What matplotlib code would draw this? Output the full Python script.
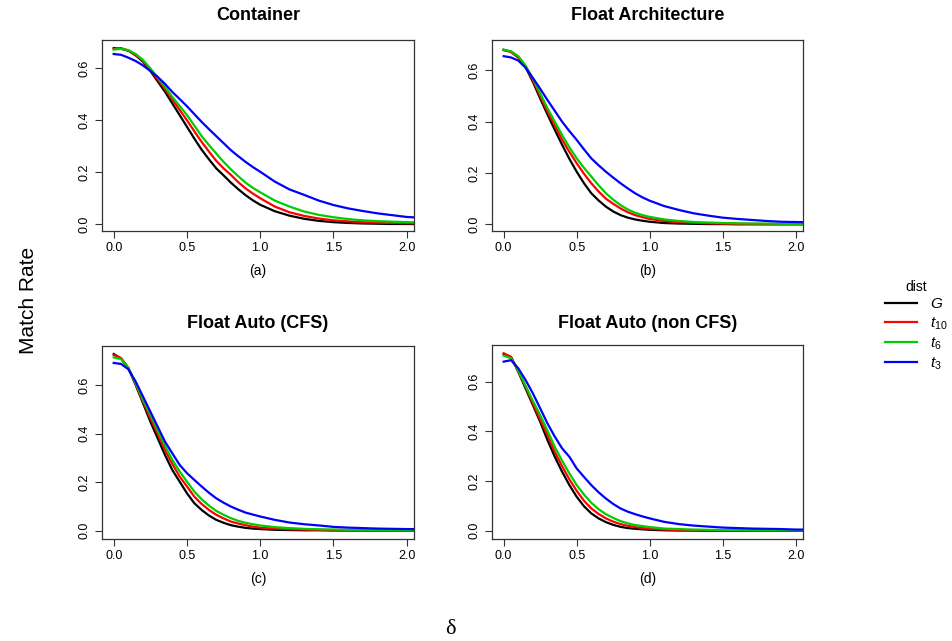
import matplotlib
matplotlib.use('Agg')
import matplotlib.pyplot as plt
import numpy as np

plt.rcParams['font.family'] = ['Liberation Sans', 'DejaVu Sans']
plt.rcParams['mathtext.fontset'] = 'custom'
plt.rcParams['mathtext.it'] = 'Liberation Sans:italic'
plt.rcParams['mathtext.rm'] = 'Liberation Sans'

# valores
delta = [0.0, 0.05, 0.1, 0.15, 0.2, 0.25, 0.3, 0.35, 0.4, 0.45, 0.5, 0.55, 0.6, 0.65,
         0.7, 0.75, 0.8, 0.85, 0.9, 0.95, 1.0, 1.1, 1.2, 1.3, 1.4, 1.5, 1.6, 1.7, 1.8,
         1.9, 2.0, 2.1]

dists = ['G', 't10', 't6', 't3']
etiquetas = ['$G$', '$t_{10}$', '$t_{6}$', '$t_{3}$']
colores = ['black', '#FF0000', '#00CD00', '#0000FF']

titulos = ['Container', 'Float Architecture', 'Float Auto (CFS)', 'Float Auto (non CFS)']
letras = ['(a)', '(b)', '(c)', '(d)']

a_G = [0.678, 0.675, 0.668, 0.650, 0.625, 0.590, 0.550, 0.510, 0.465, 0.420, 0.375, 0.330, 0.287, 0.250,
       0.215, 0.188, 0.160, 0.135, 0.112, 0.092, 0.075, 0.050, 0.033, 0.021, 0.013, 0.008, 0.005, 0.003,
       0.002, 0.001, 0.001, 0.000]
a_t10 = [0.675, 0.678, 0.668, 0.652, 0.628, 0.595, 0.558, 0.520, 0.480, 0.440, 0.400, 0.358, 0.317, 0.280,
         0.244, 0.215, 0.190, 0.162, 0.138, 0.118, 0.100, 0.068, 0.046, 0.032, 0.022, 0.015, 0.011, 0.008,
         0.006, 0.005, 0.004, 0.003]
a_t6 = [0.672, 0.675, 0.670, 0.655, 0.632, 0.600, 0.565, 0.528, 0.490, 0.455, 0.420, 0.380, 0.339, 0.305,
        0.272, 0.240, 0.211, 0.185, 0.160, 0.140, 0.123, 0.091, 0.068, 0.049, 0.036, 0.027, 0.020, 0.015,
        0.012, 0.010, 0.008, 0.007]
a_t3 = [0.655, 0.652, 0.641, 0.628, 0.611, 0.590, 0.567, 0.540, 0.509, 0.482, 0.454, 0.424, 0.394, 0.366,
        0.339, 0.312, 0.285, 0.262, 0.240, 0.220, 0.202, 0.164, 0.134, 0.113, 0.091, 0.074, 0.061, 0.051,
        0.042, 0.035, 0.028, 0.025]

b_G = [0.680, 0.672, 0.650, 0.612, 0.555, 0.490, 0.428, 0.368, 0.310, 0.255, 0.205, 0.160, 0.121, 0.093,
       0.069, 0.050, 0.036, 0.026, 0.019, 0.014, 0.010, 0.005, 0.003, 0.002, 0.001, 0.001, 0.000, 0.000,
       0.000, 0.000, 0.000, 0.000]
b_t10 = [0.678, 0.672, 0.652, 0.615, 0.562, 0.500, 0.439, 0.385, 0.330, 0.282, 0.238, 0.197, 0.160, 0.128,
         0.100, 0.080, 0.062, 0.047, 0.036, 0.028, 0.021, 0.013, 0.008, 0.006, 0.004, 0.003, 0.002, 0.002,
         0.001, 0.001, 0.001, 0.001]
b_t6 = [0.680, 0.674, 0.655, 0.618, 0.568, 0.510, 0.452, 0.400, 0.348, 0.300, 0.257, 0.220, 0.186, 0.152,
        0.121, 0.096, 0.075, 0.058, 0.045, 0.036, 0.029, 0.019, 0.013, 0.009, 0.007, 0.005, 0.004, 0.003,
        0.003, 0.002, 0.002, 0.002]
b_t3 = [0.655, 0.650, 0.638, 0.610, 0.570, 0.528, 0.484, 0.442, 0.400, 0.363, 0.329, 0.292, 0.257, 0.230,
        0.205, 0.182, 0.160, 0.140, 0.121, 0.105, 0.092, 0.071, 0.056, 0.043, 0.034, 0.026, 0.021, 0.017,
        0.013, 0.010, 0.009, 0.008]

c_G = [0.729, 0.710, 0.670, 0.601, 0.526, 0.450, 0.381, 0.312, 0.250, 0.202, 0.154, 0.113, 0.085, 0.062,
       0.044, 0.032, 0.022, 0.016, 0.011, 0.008, 0.006, 0.003, 0.002, 0.001, 0.001, 0.000, 0.000, 0.000,
       0.000, 0.000, 0.000, 0.000]
c_t10 = [0.725, 0.712, 0.672, 0.605, 0.533, 0.464, 0.400, 0.333, 0.275, 0.223, 0.182, 0.140, 0.110, 0.085,
         0.065, 0.050, 0.037, 0.029, 0.022, 0.016, 0.012, 0.008, 0.005, 0.004, 0.003, 0.002, 0.002, 0.001,
         0.001, 0.001, 0.001, 0.001]
c_t6 = [0.715, 0.708, 0.672, 0.608, 0.539, 0.478, 0.413, 0.350, 0.292, 0.244, 0.202, 0.161, 0.129, 0.103,
        0.081, 0.065, 0.051, 0.040, 0.032, 0.026, 0.021, 0.014, 0.010, 0.007, 0.005, 0.004, 0.003, 0.003,
        0.002, 0.002, 0.002, 0.002]
c_t3 = [0.692, 0.688, 0.666, 0.615, 0.553, 0.491, 0.429, 0.367, 0.319, 0.271, 0.237, 0.209, 0.182, 0.156,
        0.133, 0.115, 0.099, 0.086, 0.074, 0.066, 0.058, 0.044, 0.033, 0.026, 0.021, 0.015, 0.012, 0.010,
        0.008, 0.007, 0.006, 0.006]

d_G = [0.711, 0.700, 0.640, 0.573, 0.506, 0.439, 0.365, 0.298, 0.238, 0.184, 0.137, 0.099, 0.070, 0.050,
       0.035, 0.024, 0.016, 0.011, 0.008, 0.006, 0.004, 0.002, 0.001, 0.001, 0.000, 0.000, 0.000, 0.000,
       0.000, 0.000, 0.000, 0.000]
d_t10 = [0.715, 0.700, 0.644, 0.580, 0.513, 0.448, 0.385, 0.318, 0.260, 0.207, 0.161, 0.121, 0.090, 0.068,
         0.050, 0.037, 0.027, 0.020, 0.015, 0.011, 0.008, 0.005, 0.003, 0.002, 0.002, 0.001, 0.001, 0.001,
         0.001, 0.001, 0.001, 0.001]
d_t6 = [0.705, 0.695, 0.644, 0.583, 0.523, 0.466, 0.403, 0.338, 0.282, 0.231, 0.184, 0.146, 0.113, 0.087,
        0.067, 0.052, 0.039, 0.030, 0.023, 0.019, 0.015, 0.009, 0.007, 0.005, 0.004, 0.003, 0.003, 0.002,
        0.002, 0.002, 0.002, 0.002]
d_t3 = [0.681, 0.687, 0.654, 0.607, 0.553, 0.493, 0.432, 0.379, 0.332, 0.298, 0.251, 0.217, 0.184, 0.155,
        0.130, 0.108, 0.090, 0.077, 0.067, 0.058, 0.050, 0.036, 0.027, 0.021, 0.017, 0.013, 0.011, 0.009,
        0.008, 0.007, 0.005, 0.005]

paneles = [[a_G, a_t10, a_t6, a_t3],
           [b_G, b_t10, b_t6, b_t3],
           [c_G, c_t10, c_t6, c_t3],
           [d_G, d_t10, d_t6, d_t3]]

ylims = [(-0.026, 0.709), (-0.026, 0.718), (-0.035, 0.762), (-0.033, 0.748)]

# posiciones en pixeles: izquierda, arriba, derecha, abajo
W, H = 952, 641
cajas = [(102, 40, 414, 231), (492, 40, 803, 231),
         (102, 346, 414, 539), (492, 345, 803, 539)]
titulo_y = [16, 16, 324, 324]

fig = plt.figure(figsize=(W / 100, H / 100), dpi=100)

lineas = []
for i in range(4):
    l, t, r, b = cajas[i]
    ax = fig.add_axes([l / W, 1 - b / H, (r - l) / W, (b - t) / H])
    for j in range(4):
        ln, = ax.plot(delta, paneles[i][j], color=colores[j], lw=1.6, label=etiquetas[j])
        if i == 0:
            lineas.append(ln)
    ax.set_xlim(-0.08, 2.05)
    ax.set_ylim(*ylims[i])
    ax.set_xticks([0.0, 0.5, 1.0, 1.5, 2.0])
    ax.set_xticklabels(['0.0', '0.5', '1.0', '1.5', '2.0'])
    ax.set_yticks([0.0, 0.2, 0.4, 0.6])
    ax.set_yticklabels(['0.0', '0.2', '0.4', '0.6'], rotation=90, va='center')
    ax.tick_params(direction='out', length=5, width=0.8, labelsize=9, pad=3, color='#333333')
    for s in ax.spines.values():
        s.set_linewidth(0.9)
        s.set_color('#333333')
    cx = (l + r) / 2 / W
    fig.text(cx, 1 - titulo_y[i] / H, titulos[i], ha='center', va='center',
             fontsize=13, fontweight='bold')
    fig.text(cx, 1 - (b + 40) / H, letras[i], ha='center', va='center', fontsize=10)

fig.text(28 / W, 1 - 300 / H, 'Match Rate', rotation=90, ha='center', va='center', fontsize=15)
fig.text(450 / W, 1 - 630 / H, 'δ', ha='center', va='center', fontsize=16,
         family=['Liberation Serif', 'DejaVu Serif'])

leg = fig.legend(handles=lineas, labels=etiquetas, title='dist', frameon=False,
                 loc='upper left', bbox_to_anchor=(877 / W, 1 - 272 / H),
                 fontsize=11, title_fontsize=10, handlelength=2.1, handletextpad=0.9,
                 labelspacing=0.25, borderpad=0)

fig.savefig('out.png', dpi=100)
